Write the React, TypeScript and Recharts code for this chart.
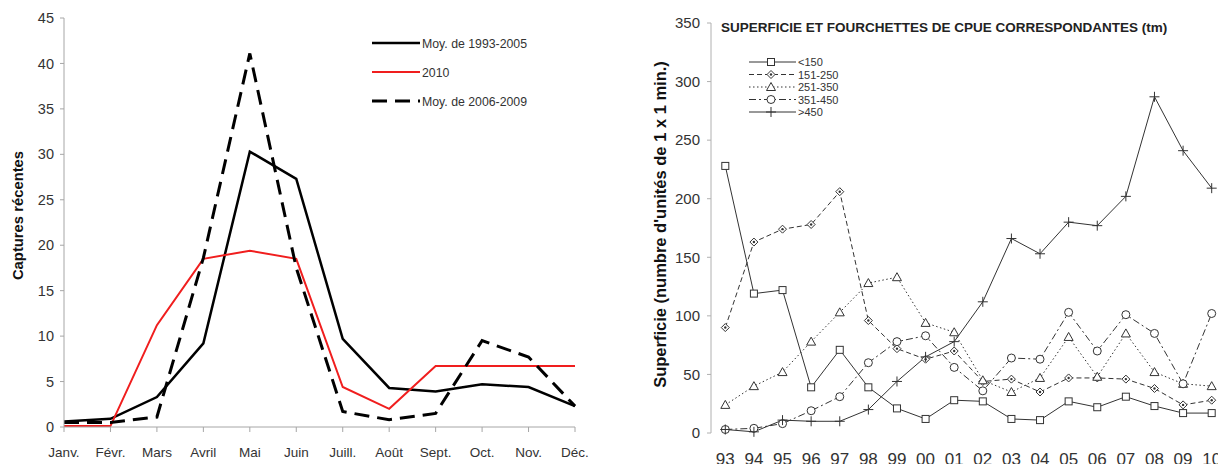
import React from 'react';
import { LineChart, Line, XAxis, YAxis, Label } from 'recharts';

// Captures mensuelles
const months = ['Janv.', 'Févr.', 'Mars', 'Avril', 'Mai', 'Juin', 'Juill.', 'Août', 'Sept.', 'Oct.', 'Nov.', 'Déc.'];
const moy1993_2005 = [0.6, 0.9, 3.3, 9.2, 30.3, 27.3, 9.7, 4.3, 3.9, 4.7, 4.4, 2.3];
const an2010 = [0.1, 0.1, 11.2, 18.5, 19.4, 18.5, 4.4, 2.0, 6.7, 6.7, 6.7, 6.7];
const moy2006_2009 = [0.5, 0.5, 1.1, 18.6, 41.1, 17.5, 1.7, 0.8, 1.5, 9.5, 7.7, 2.3];
const capturesTicks = [0, 5, 10, 15, 20, 25, 30, 35, 40, 45];

// Superficie par fourchette de CPUE
const years = ['93', '94', '95', '96', '97', '98', '99', '00', '01', '02', '03', '04', '05', '06', '07', '08', '09', '10'];
const cpueMoins150 = [228, 119, 122, 39, 71, 39, 21, 12, 28, 27, 12, 11, 27, 22, 31, 23, 17, 17];
const cpue151_250 = [90, 163, 174, 178, 206, 96, 72, 63, 70, 44, 46, 35, 47, 47, 46, 38, 24, 28];
const cpue251_350 = [24, 40, 52, 78, 103, 128, 133, 94, 86, 45, 35, 47, 82, 48, 85, 52, 42, 40];
const cpue351_450 = [3, 4, 8, 19, 31, 60, 78, 83, 56, 36, 64, 63, 103, 70, 101, 85, 42, 102];
const cpuePlus450 = [3, 1, 11, 10, 10, 20, 44, 65, 78, 112, 166, 153, 180, 177, 202, 287, 241, 209];
const superficieTicks = [0, 50, 100, 150, 200, 250, 300, 350];

const FONT = '"Liberation Sans", Arial, sans-serif';
const INK = '#333';

const capturesData = months.map((m, i) => ({
  mois: m,
  moy1: moy1993_2005[i],
  an2010: an2010[i],
  moy2: moy2006_2009[i],
}));

const superficieData = years.map((y, i) => ({
  pos: i + 0.5,
  a: cpueMoins150[i],
  b: cpue151_250[i],
  c: cpue251_350[i],
  d: cpue351_450[i],
  e: cpuePlus450[i],
}));

const capturesSeries = [
  { key: 'moy1', name: 'Moy. de 1993-2005', color: '#000', width: 2.5, dash: undefined },
  { key: 'an2010', name: '2010', color: '#f01e1e', width: 2, dash: undefined },
  { key: 'moy2', name: 'Moy. de 2006-2009', color: '#000', width: 3, dash: '15 8' },
];

type Shape = 'square' | 'diamond' | 'triangle' | 'circle' | 'plus';

const cpueSeries: { key: string; name: string; shape: Shape; dash?: string }[] = [
  { key: 'a', name: '<150', shape: 'square' },
  { key: 'b', name: '151-250', shape: 'diamond', dash: '5 3' },
  { key: 'c', name: '251-350', shape: 'triangle', dash: '1.5 2.5' },
  { key: 'd', name: '351-450', shape: 'circle', dash: '7 3 2 3' },
  { key: 'e', name: '>450', shape: 'plus' },
];

const Marker = ({ shape, cx, cy }: { shape: Shape; cx: number; cy: number }) => {
  switch (shape) {
    case 'square':
      return <rect x={cx - 3.5} y={cy - 3.5} width={7} height={7} fill="#fff" stroke={INK} />;
    case 'diamond':
      return (
        <g>
          <polygon points={`${cx},${cy - 4} ${cx + 4},${cy} ${cx},${cy + 4} ${cx - 4},${cy}`} fill="#fff" stroke={INK} />
          <circle cx={cx} cy={cy} r={1.2} fill={INK} />
        </g>
      );
    case 'triangle':
      return <polygon points={`${cx},${cy - 4.5} ${cx + 4.5},${cy + 3.5} ${cx - 4.5},${cy + 3.5}`} fill="#fff" stroke={INK} />;
    case 'circle':
      return <circle cx={cx} cy={cy} r={4} fill="#fff" stroke={INK} />;
    default:
      return <path d={`M${cx - 5},${cy}H${cx + 5}M${cx},${cy - 5}V${cy + 5}`} stroke={INK} fill="none" />;
  }
};

const CapturesLegend = () => (
  <svg style={{ position: 'absolute', left: 370, top: 30 }} width={200} height={84}>
    {capturesSeries.map((s, i) => (
      <g key={s.key}>
        <line x1={2} x2={50} y1={13 + i * 29} y2={13 + i * 29} stroke={s.color} strokeWidth={s.width} strokeDasharray={s.dash} />
        <text x={52} y={17.5 + i * 29} fontSize={12.3} fontFamily={FONT} fill={INK}>{s.name}</text>
      </g>
    ))}
  </svg>
);

const CpueLegend = () => (
  <svg style={{ position: 'absolute', left: 745, top: 54 }} width={110} height={66}>
    {cpueSeries.map((s, i) => {
      const y = 8 + i * 12.5;
      return (
        <g key={s.key}>
          <line x1={4} x2={51} y1={y} y2={y} stroke={INK} strokeDasharray={s.dash} />
          <Marker shape={s.shape} cx={26} cy={y} />
          <text x={53} y={y + 4} fontSize={11} fontFamily={FONT} fill={INK}>{s.name}</text>
        </g>
      );
    })}
  </svg>
);

export default function App() {
  return (
    <div style={{ position: 'fixed', left: 0, top: 0, width: 1218, height: 464, overflow: 'hidden', background: '#fff', fontFamily: FONT }}>
      <div style={{ position: 'absolute', left: 0, top: 0 }}>
        <LineChart width={600} height={464} data={capturesData} margin={{ top: 18, right: 25, left: 0, bottom: 0 }}>
          <XAxis
            dataKey="mois"
            padding={{ left: 0, right: 0 }}
            height={37}
            stroke="#a6a6a6"
            tickSize={5}
            tickMargin={15}
            tick={{ fill: INK, fontSize: 13.5, fontFamily: FONT }}
            interval={0}
          />
          <YAxis
            domain={[0, 45]}
            ticks={capturesTicks}
            width={64}
            stroke="#a6a6a6"
            tickSize={4}
            tickMargin={6}
            tick={{ fill: INK, fontSize: 14.5, fontFamily: FONT }}
          >
            <Label value="Captures récentes" angle={-90} position="center" dx={-14} dy={-7}
              style={{ fontWeight: 'bold', fontSize: 14.8, fill: '#111', fontFamily: FONT }} />
          </YAxis>
          {capturesSeries.map((s) => (
            <Line
              key={s.key}
              type="linear"
              dataKey={s.key}
              name={s.name}
              stroke={s.color}
              strokeWidth={s.width}
              strokeDasharray={s.dash}
              dot={false}
              activeDot={false}
              isAnimationActive={false}
            />
          ))}
        </LineChart>
        <CapturesLegend />
      </div>

      <div style={{ position: 'absolute', left: 600, top: 0 }}>
        <LineChart width={640} height={464} data={superficieData} margin={{ top: 23, right: 14, left: 0, bottom: 0 }}>
          <XAxis
            xAxisId="bords"
            type="number"
            dataKey="pos"
            domain={[0, years.length]}
            ticks={years.map((_, i) => i).concat(years.length)}
            height={0}
            stroke="#b0b0b0"
            tickSize={5}
            tickFormatter={() => ''}
          />
          <XAxis
            xAxisId="annees"
            type="number"
            dataKey="pos"
            domain={[0, years.length]}
            ticks={years.map((_, i) => i + 0.5)}
            height={31}
            axisLine={false}
            tickLine={false}
            tickSize={0}
            tickMargin={20}
            interval={0}
            tickFormatter={(v: number) => years[Math.floor(v)]}
            tick={{ fill: INK, fontSize: 17, fontFamily: FONT }}
          />
          <YAxis
            domain={[0, 350]}
            ticks={superficieTicks}
            width={111}
            stroke="#b0b0b0"
            tickSize={4}
            tickMargin={7}
            tick={{ fill: INK, fontSize: 15, fontFamily: FONT }}
          >
            <Label value="Superficie (numbre d'unités de 1 x 1 min.)" angle={-90} position="center" dx={4.5} dy={-3.5}
              style={{ fontWeight: 'bold', fontSize: 16.5, fill: '#111', fontFamily: FONT }} />
          </YAxis>
          {cpueSeries.map((s) => (
            <Line
              key={s.key}
              xAxisId="annees"
              type="linear"
              dataKey={s.key}
              name={s.name}
              stroke={INK}
              strokeWidth={1}
              strokeDasharray={s.dash}
              dot={(p: any) => (
                <g key={`${s.key}-${p.index}`}>
                  <Marker shape={s.shape} cx={p.cx} cy={p.cy} />
                </g>
              )}
              activeDot={false}
              isAnimationActive={false}
            />
          ))}
        </LineChart>
      </div>

      <svg style={{ position: 'absolute', left: 715, top: 14 }} width={500} height={24}>
        <text x={6} y={18} fontSize={13.5} fontWeight="bold" fontFamily={FONT} fill="#222">
          SUPERFICIE ET FOURCHETTES DE CPUE CORRESPONDANTES (tm)
        </text>
      </svg>
      <CpueLegend />
    </div>
  );
}
